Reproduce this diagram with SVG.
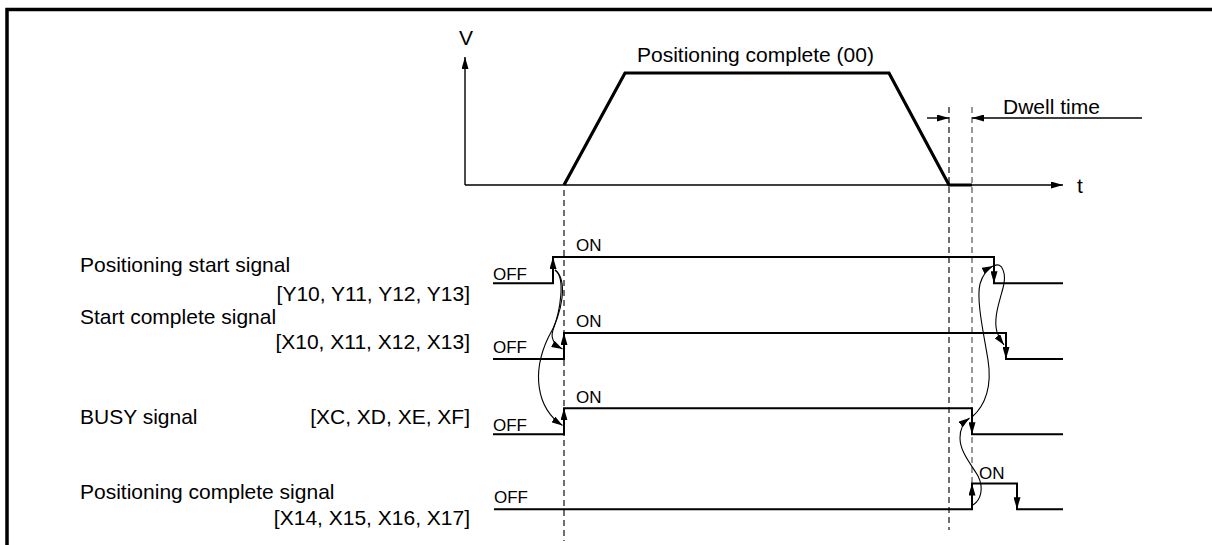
<svg xmlns="http://www.w3.org/2000/svg" width="1212" height="545" viewBox="0 0 1212 545">
<style>
text{font-family:"Liberation Sans",Arial,sans-serif;fill:#000}
.lbl{font-size:21px}
.st{font-size:17px}
.sig{fill:none;stroke:#000;stroke-width:2}
.edge{stroke:#000;stroke-width:2;marker-end:url(#ah)}
.cur{fill:none;stroke:#000;stroke-width:1.1;marker-end:url(#ahc)}
.dash{stroke:#333;stroke-width:1.4;stroke-dasharray:6 4}
.dashg{stroke:#808080;stroke-width:1.6;stroke-dasharray:6 4}
.ax{stroke:#000;stroke-width:1.4;fill:none}
</style>
<defs>
<marker id="ah" viewBox="0 0 12 7" refX="12" refY="3.5" markerWidth="12" markerHeight="7" orient="auto" markerUnits="userSpaceOnUse"><path d="M0,0 L12,3.5 L0,7 z" fill="#000"/></marker>
<marker id="ahc" viewBox="0 0 11 7" refX="11" refY="3.5" markerWidth="11" markerHeight="7" orient="auto" markerUnits="userSpaceOnUse"><path d="M0,0 L11,3.5 L0,7 z" fill="#000"/></marker>
</defs>
<rect width="1212" height="545" fill="#fff"/>
<path d="M7 545 V9.5 H1212" fill="none" stroke="#000" stroke-width="3.5"/>

<g id="dashes">
<line class="dash" x1="564" y1="190" x2="564" y2="541"/>
<line class="dash" x1="949" y1="107" x2="949" y2="530"/>
<line class="dashg" x1="972" y1="107" x2="972" y2="484"/>
</g>

<g id="velocity-chart">
<line class="ax" x1="465" y1="185" x2="465" y2="57" marker-end="url(#ah)"/>
<line class="ax" x1="465" y1="185" x2="1063" y2="185" marker-end="url(#ah)"/>
<text class="lbl" x="459" y="45">V</text>
<text class="lbl" x="1077" y="193">t</text>
<path d="M564 185 L625 73 L889 73 L949 185 L972 185" fill="none" stroke="#000" stroke-width="3.2" stroke-linejoin="miter"/>
<text class="lbl" x="637" y="62">Positioning complete (00)</text>
</g>

<g id="dwell-time">
<line class="ax" x1="927" y1="118" x2="949" y2="118" marker-end="url(#ah)"/>
<line class="ax" x1="1142" y1="118" x2="972" y2="118" marker-end="url(#ah)"/>
<text class="lbl" x="1003" y="114">Dwell time</text>
</g>

<g id="positioning-start-signal">
<text class="lbl" x="80" y="272">Positioning start signal</text>
<text class="lbl" x="470" y="301" text-anchor="end">[Y10, Y11, Y12, Y13]</text>
<text class="st" x="493" y="280">OFF</text>
<text class="st" x="576" y="251">ON</text>
<path class="sig" d="M493 283.3 H553 V257 H994 V283.3 H1063"/>
<line class="edge" x1="553" y1="276" x2="553" y2="257"/>
<line class="edge" x1="994" y1="265" x2="994" y2="283.3"/>
</g>

<g id="start-complete-signal">
<text class="lbl" x="80" y="324">Start complete signal</text>
<text class="lbl" x="470" y="349" text-anchor="end">[X10, X11, X12, X13]</text>
<text class="st" x="493" y="353">OFF</text>
<text class="st" x="576" y="327">ON</text>
<path class="sig" d="M493 359 H564 V333 H1006 V359 H1063"/>
<line class="edge" x1="564" y1="352" x2="564" y2="333"/>
<line class="edge" x1="1006" y1="340" x2="1006" y2="359"/>
</g>

<g id="busy-signal">
<text class="lbl" x="80" y="424">BUSY signal</text>
<text class="lbl" x="470" y="424" text-anchor="end">[XC, XD, XE, XF]</text>
<text class="st" x="493" y="430.5">OFF</text>
<text class="st" x="576" y="403">ON</text>
<path class="sig" d="M493 434.3 H564 V408.3 H972 V434.3 H1063"/>
<line class="edge" x1="564" y1="427" x2="564" y2="408.3"/>
<line class="edge" x1="972" y1="415" x2="972" y2="434.3"/>
</g>

<g id="positioning-complete-signal">
<text class="lbl" x="80" y="499">Positioning complete signal</text>
<text class="lbl" x="470" y="525" text-anchor="end">[X14, X15, X16, X17]</text>
<text class="st" x="494" y="503">OFF</text>
<text class="st" x="979" y="479">ON</text>
<path class="sig" d="M494 509.3 H972 V483.5 H1017 V509.3 H1063"/>
<line class="edge" x1="972" y1="502" x2="972" y2="483.5"/>
<line class="edge" x1="1017" y1="490" x2="1017" y2="509.3"/>
</g>

<g id="connectors">
<path class="cur" d="M555 270 C566 277, 560 312, 553 330 C550 339, 555 345, 562.5 349"/>
<path class="cur" d="M555 270 C568 280, 563 312, 548 338 C532 372, 536 408, 562.5 425.5"/>
<path class="cur" d="M972 417 C986 405, 992 385, 988 360 C984 335, 976 300, 980 284 C983 274, 987 269, 993 266"/>
<path class="cur" d="M994 266 C1002 261, 1007 274, 1003 288 C1000 300, 993 318, 997 332 C999 338, 1001 341, 1004 345"/>
<path class="cur" d="M973 505 C981 500, 984 488, 978 476 C971 464, 960 452, 960 438 C960 428, 964 422, 969.5 418"/>
</g>
</svg>
